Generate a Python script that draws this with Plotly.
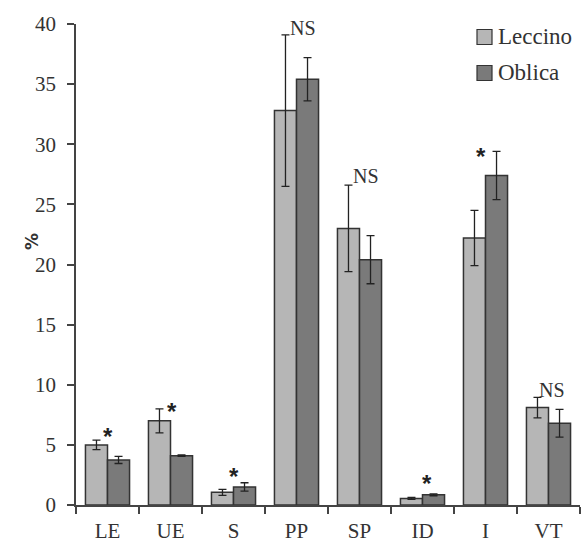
import plotly.graph_objects as go

categories = ["LE", "UE", "S", "PP", "SP", "ID", "I", "VT"]
leccino = [5.0, 7.0, 1.05, 32.8, 23.0, 0.55, 22.2, 8.1]
leccino_err = [0.4, 1.0, 0.25, 6.3, 3.6, 0.08, 2.3, 0.85]
oblica = [3.75, 4.1, 1.5, 35.4, 20.4, 0.85, 27.4, 6.8]
oblica_err = [0.3, 0.06, 0.35, 1.8, 2.0, 0.08, 2.0, 1.15]
sig_labels = ["*", "*", "*", "NS", "NS", "*", "*", "NS"]
sig_y = [6.0, 8.15, 2.7, 39.7, 27.4, 2.1, 29.3, 9.6]
sig_shift = [0, 1, 0, 6, 6, 4, -5, 3]

series_names = ["Leccino", "Oblica"]
series_colors = ["#b6b6b6", "#7a7a7a"]

serif = "Liberation Serif"
W, H = 581, 545
L, R, T, B = 76, 1, 24, 40
PW, PH = W - L - R, H - T - B

def px(x):
    return (x - L) / PW

def py(y):
    return (H - B - y) / PH

fig = go.Figure()
for name, vals, errs, col in zip(series_names, [leccino, oblica],
                                 [leccino_err, oblica_err], series_colors):
    fig.add_trace(go.Bar(
        name=name, x=categories, y=vals,
        error_y=dict(type="data", array=errs, color="#222", thickness=1.3, width=4),
        marker=dict(color=col, line=dict(color="#333", width=1.5)),
        showlegend=False,
    ))

for c, lab, yv, sh in zip(categories, sig_labels, sig_y, sig_shift):
    if lab == "*":
        fnt = dict(family="Liberation Sans", size=24, color="#222", weight="bold")
        ys = -4
    else:
        fnt = dict(family=serif, size=20, color="#333")
        ys = 0
    fig.add_annotation(x=c, y=yv, text=lab, showarrow=False, xshift=sh,
                       yshift=ys, font=fnt, xref="x", yref="y")

# y-axis title
fig.add_annotation(xref="paper", yref="paper", x=px(20), y=py(242),
                   text="<b>%</b>", showarrow=False, textangle=-90,
                   font=dict(family="DejaVu Sans", size=17, color="#333"))

# legend (drawn manually to match spacing)
for i, (name, col) in enumerate(zip(series_names, series_colors)):
    cy = 37 + 36 * i
    fig.add_shape(type="rect", xref="paper", yref="paper",
                  x0=px(477), x1=px(492), y0=py(cy + 7.5), y1=py(cy - 7.5),
                  fillcolor=col, line=dict(color="#333", width=1.2))
    fig.add_annotation(xref="paper", yref="paper", x=px(496), y=py(cy),
                       xanchor="left", yanchor="middle", text=name,
                       showarrow=False,
                       font=dict(family=serif, size=23, color="#333"))

fig.update_layout(
    width=W, height=H,
    margin=dict(l=L, r=R, t=T, b=B),
    paper_bgcolor="white", plot_bgcolor="white",
    barmode="group", bargap=0.3, bargroupgap=0,
    font=dict(family=serif, size=20, color="#333"),
    showlegend=False,
    xaxis=dict(showline=True, linecolor="#444", linewidth=1.5,
               ticks="outside", tickson="boundaries", ticklen=7,
               tickcolor="#444", tickwidth=1.5, showgrid=False,
               automargin=False, ticklabelstandoff=6,
               tickfont=dict(family=serif, size=21, color="#333")),
    yaxis=dict(range=[0, 40], dtick=5, showline=True, linecolor="#444",
               linewidth=1.5, ticks="outside", ticklen=7, tickcolor="#444",
               tickwidth=1.5, showgrid=False, zeroline=False,
               automargin=False, ticklabelstandoff=7,
               tickfont=dict(family=serif, size=21, color="#333")),
)

fig.write_html("out.html", config={"displayModeBar": False},
               post_script="document.body.style.margin='0px';document.body.style.overflow='hidden';")
